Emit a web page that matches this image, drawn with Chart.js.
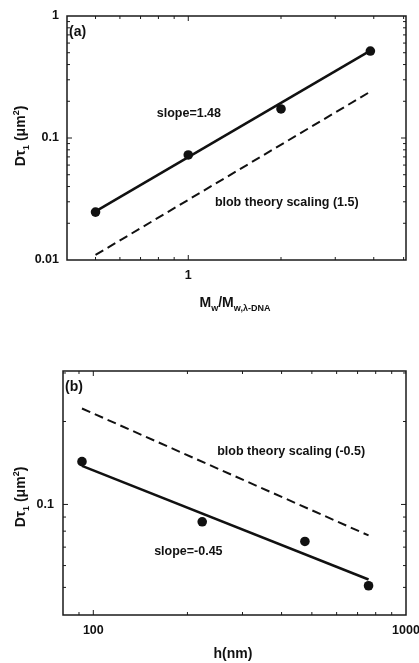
<!DOCTYPE html>
<html>
<head>
<meta charset="utf-8">
<script src="https://cdn.jsdelivr.net/npm/chart.js@4.4.1/dist/chart.umd.min.js"></script>
<style>
  html, body { margin: 0; padding: 0; background: #fff; }
  #wrapA { position: absolute; left: 0; top: 0; width: 419px; height: 320px; }
  #wrapB { position: absolute; left: 0; top: 320px; width: 419px; height: 343px; }
</style>
</head>
<body>
<div id="wrapA"><canvas id="chartA"></canvas></div>
<div id="wrapB"><canvas id="chartB"></canvas></div>
<script>
// panel (a): D*tau1 against Mw / Mw,lambda-DNA
const massRatio = [0.5, 1, 2, 3.9];
const dTauMass = [0.0247, 0.0726, 0.173, 0.516];
const fitMassX = [0.5, 3.9];
const fitMassY = [0.025, 0.52];
const blobMassX = [0.5, 3.9];
const blobMassY = [0.011, 0.24];

// panel (b): D*tau1 against slit height h
const slitH = [92, 223, 475, 759];
const dTauSlit = [0.143, 0.0865, 0.0734, 0.0507];
const fitSlitX = [92, 759];
const fitSlitY = [0.138, 0.0534];
const blobSlitX = [92, 759];
const blobSlitY = [0.223, 0.0772];

// tick marks and labelled ticks
const ticksAx = [0.5, 0.6, 0.7, 0.8, 0.9, 1, 2, 3, 4, 5];
const ticksAy = [0.02, 0.03, 0.04, 0.05, 0.06, 0.07, 0.08, 0.09, 0.1,
                 0.2, 0.3, 0.4, 0.5, 0.6, 0.7, 0.8, 0.9];
const labelsAx = [1];
const labelsAy = [0.01, 0.1, 1];
const ticksBx = [90, 100, 200, 300, 400, 500, 600, 700, 800, 900];
const ticksBy = [0.05, 0.06, 0.07, 0.08, 0.09, 0.1, 0.2, 0.3];
const labelsBx = [100, 1000];
const labelsBy = [0.1];

const FONT = '"Liberation Sans", Arial, sans-serif';
const INK = '#111';

const pts = (xs, ys) => xs.map((v, i) => ({ x: v, y: ys[i] }));

// draw text with sub/superscripts, centred on (cx, cy)
function drawRich(ctx, parts, cx, cy, size, rotate) {
  const big = 'bold ' + size + 'px ' + FONT;
  const small = 'bold ' + Math.round(size * 0.65) + 'px ' + FONT;
  let w = 0;
  parts.forEach(p => {
    ctx.font = (p.sub || p.sup) ? small : big;
    p.w = ctx.measureText(p.t).width;
    w += p.w;
  });
  ctx.save();
  ctx.translate(cx, cy);
  if (rotate) ctx.rotate(-Math.PI / 2);
  ctx.textAlign = 'left';
  ctx.textBaseline = 'alphabetic';
  let xx = -w / 2;
  const base = size * 0.36;
  parts.forEach(p => {
    ctx.font = (p.sub || p.sup) ? small : big;
    const dy = p.sub ? size * 0.3 : p.sup ? -size * 0.45 : 0;
    ctx.fillText(p.t, xx, base + dy);
    xx += p.w;
  });
  ctx.restore();
}

const framePlugin = {
  id: 'frame',
  afterDatasetsDraw(chart, args, o) {
    const { ctx, chartArea: a, scales: { x, y } } = chart;
    ctx.save();
    ctx.strokeStyle = '#1a1a1a';
    ctx.lineWidth = 1.5;
    ctx.strokeRect(a.left, a.top, a.right - a.left, a.bottom - a.top);

    // inward tick marks on all four sides
    ctx.lineWidth = 1;
    ctx.beginPath();
    o.xTicks.forEach(v => {
      const px = x.getPixelForValue(v);
      const len = o.xLabels.includes(v) ? 5 : 3;
      ctx.moveTo(px, a.bottom); ctx.lineTo(px, a.bottom - len);
      ctx.moveTo(px, a.top); ctx.lineTo(px, a.top + len);
    });
    o.yTicks.forEach(v => {
      const py = y.getPixelForValue(v);
      const len = o.yLabels.includes(v) ? 5 : 3;
      ctx.moveTo(a.left, py); ctx.lineTo(a.left + len, py);
      ctx.moveTo(a.right, py); ctx.lineTo(a.right - len, py);
    });
    ctx.stroke();

    // annotations
    ctx.fillStyle = INK;
    ctx.font = 'bold 12.5px ' + FONT;
    ctx.textAlign = 'left';
    ctx.textBaseline = 'middle';
    o.notes.forEach(n => ctx.fillText(n.text, x.getPixelForValue(n.x), y.getPixelForValue(n.y)));
    ctx.font = 'bold 14px ' + FONT;
    ctx.fillText(o.tag, a.left + 2, a.top + 16);

    // axis titles
    drawRich(ctx, o.xTitle, o.xTitlePos[0], o.xTitlePos[1], 14, false);
    drawRich(ctx, [
      { t: 'D\u03c4' }, { t: '1', sub: true }, { t: ' (\u03bcm' }, { t: '2', sup: true }, { t: ')' }
    ], o.yTitlePos[0], o.yTitlePos[1], 14, true);
    ctx.restore();
  }
};

function makePanel(id, p) {
  const tickFont = { family: FONT, size: 12.5, weight: 'bold' };
  return new Chart(document.getElementById(id), {
    type: 'scatter',
    data: {
      datasets: [
        { data: pts(p.blobX, p.blobY), showLine: true, borderColor: INK, borderWidth: 2,
          borderDash: [9, 5], pointRadius: 0 },
        { data: pts(p.fitX, p.fitY), showLine: true, borderColor: INK, borderWidth: 2.5,
          pointRadius: 0 },
        { data: pts(p.xs, p.ys), showLine: false, pointRadius: 4.8, pointBackgroundColor: INK,
          pointBorderColor: INK, pointBorderWidth: 0 }
      ]
    },
    options: {
      responsive: true,
      maintainAspectRatio: false,
      animation: false,
      layout: { padding: { top: p.top, right: p.right, left: 0, bottom: 0 } },
      plugins: {
        legend: { display: false },
        tooltip: { enabled: false },
        frame: {
          xTicks: p.xTicks, yTicks: p.yTicks, xLabels: p.xLabels, yLabels: p.yLabels,
          notes: p.notes, tag: p.tag, xTitle: p.xTitle,
          xTitlePos: p.xTitlePos, yTitlePos: p.yTitlePos
        }
      },
      scales: {
        x: {
          type: 'logarithmic', min: p.xMin, max: p.xMax,
          grid: { display: false, drawTicks: false }, border: { display: false },
          afterBuildTicks: s => { s.ticks = p.xLabels.map(v => ({ value: v })); },
          afterFit: s => { s.height = p.bottomBox; s.paddingLeft = 0; s.paddingRight = 0; },
          ticks: { color: INK, font: tickFont, padding: p.xPad, autoSkip: false,
                   maxRotation: 0, callback: v => String(v) }
        },
        y: {
          type: 'logarithmic', min: p.yMin, max: p.yMax,
          grid: { display: false, drawTicks: false }, border: { display: false },
          afterBuildTicks: s => { s.ticks = p.yLabels.map(v => ({ value: v })); },
          afterFit: s => { s.width = p.left; s.paddingTop = 0; s.paddingBottom = 0; },
          ticks: { color: INK, font: tickFont, padding: p.yPad, autoSkip: false,
                   callback: v => String(v) }
        }
      }
    },
    plugins: [framePlugin]
  });
}

makePanel('chartA', {
  xs: massRatio, ys: dTauMass, fitX: fitMassX, fitY: fitMassY, blobX: blobMassX, blobY: blobMassY,
  xMin: 0.404, xMax: 5.09, yMin: 0.01, yMax: 1,
  xTicks: ticksAx, yTicks: ticksAy, xLabels: labelsAx, yLabels: labelsAy,
  top: 16, right: 13, left: 67, bottomBox: 60, xPad: 8, yPad: 8,
  tag: '(a)',
  notes: [
    { text: 'slope=1.48', x: 0.79, y: 0.16 },
    { text: 'blob theory scaling (1.5)', x: 1.22, y: 0.0293 }
  ],
  xTitle: [{ t: 'M' }, { t: 'w', sub: true }, { t: '/M' }, { t: 'w,\u03bb-DNA', sub: true }],
  xTitlePos: [235, 302], yTitlePos: [20, 136]
});

makePanel('chartB', {
  xs: slitH, ys: dTauSlit, fitX: fitSlitX, fitY: fitSlitY, blobX: blobSlitX, blobY: blobSlitY,
  xMin: 80, xMax: 1000, yMin: 0.0397, yMax: 0.305,
  xTicks: ticksBx, yTicks: ticksBy, xLabels: labelsBx, yLabels: labelsBy,
  top: 51, right: 13, left: 63, bottomBox: 48, xPad: 8, yPad: 9,
  tag: '(b)',
  notes: [
    { text: 'blob theory scaling (-0.5)', x: 249, y: 0.156 },
    { text: 'slope=-0.45', x: 156.5, y: 0.0673 }
  ],
  xTitle: [{ t: 'h(nm)' }],
  xTitlePos: [233, 333], yTitlePos: [20, 177]
});
</script>
</body>
</html>
